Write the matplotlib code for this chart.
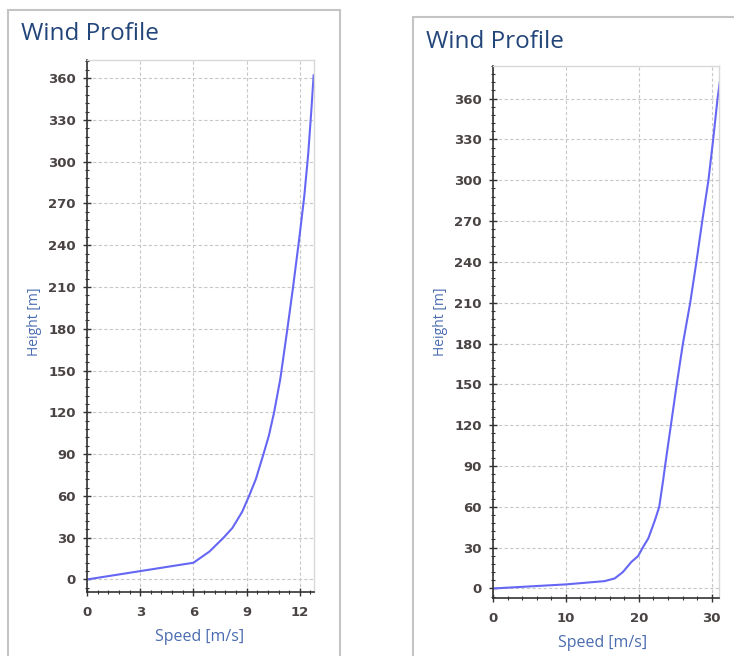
##### LIBRARIES ########################
import matplotlib
matplotlib.use("Agg")
import matplotlib.pyplot as plt
from matplotlib.patches import Rectangle
from matplotlib.ticker import MultipleLocator, AutoMinorLocator

##### DATA #############################
# left profile (speed [m/s] vs. height [m])
left_speed  = [0, 3, 6, 6.9, 7.7, 8.2, 8.75, 9.14, 9.52, 9.95, 10.25, 10.55,
               10.9, 11.3, 11.62, 11.97, 12.25, 12.47, 12.64, 12.78]
left_height = [0, 6, 12, 20, 30, 37, 48.6, 60, 72, 90, 103, 120,
               144, 180, 210, 245, 275, 305, 335, 362]
left_xticks = [0, 3, 6, 9, 12]

# right profile
right_speed  = [0, 5, 10, 15.3, 16.7, 17.8, 19.0, 19.9, 20.6, 21.3, 22.2, 22.8,
                23.35, 23.6, 24.4, 25.2, 26.05, 27.05, 27.9, 28.7, 29.55, 30.2,
                30.8, 31.1]
right_height = [0, 1.5, 3, 5.4, 7.4, 12, 19.6, 23.8, 30.6, 36.8, 50, 60,
                80, 90, 120, 150, 180, 210, 240, 270, 300, 330, 360, 372]
right_xticks = [0, 10, 20, 30]

yticks = [0, 30, 60, 90, 120, 150, 180, 210, 240, 270, 300, 330, 360]

title_txt = "Wind Profile"
xlab_txt  = "Speed [m/s]"
ylab_txt  = "Height [m]"

##### STYLE ############################
W, H = 734, 656
title_col = "#22457a"
label_col = "#4a6cb0"
tick_col  = "#4a4343"
line_col  = "#6666f5"
frame_col = "#c4c4c4"
grid_col  = "#c8c8c8"


def px(x, y):
    # pixel (from top-left) -> figure fraction
    return x / W, 1 - y / H


def setup_axes(ax, xmax, ymin, ymax, xticks, xminor):
    ax.set_xlim(0, xmax)
    ax.set_ylim(ymin, ymax)
    ax.set_xticks(xticks)
    ax.set_yticks(yticks)
    ax.xaxis.set_minor_locator(MultipleLocator(xminor))
    ax.yaxis.set_minor_locator(AutoMinorLocator(5))
    ax.grid(which='major', color=grid_col, linestyle=(0, (3, 2)), linewidth=0.8)
    ax.tick_params(which='major', direction='inout', length=6, width=1,
                   color='#333333', labelcolor=tick_col, labelsize=9.5)
    ax.tick_params(axis='y', which='major', pad=5)
    ax.tick_params(axis='x', which='major', pad=7)
    ax.tick_params(which='minor', direction='inout', length=3, width=0.8,
                   color='#333333')
    ax.tick_params(top=False, right=False, which='both')
    for lbl in ax.get_xticklabels() + ax.get_yticklabels():
        lbl.set_fontweight('bold')
    for s in ['left', 'bottom']:
        ax.spines[s].set_color('#333333')
        ax.spines[s].set_linewidth(1.2)
    for s in ['top', 'right']:
        ax.spines[s].set_color('#d8d8d8')
        ax.spines[s].set_linewidth(1)


##### FIGURE ###########################
fig = plt.figure(figsize=(W / 100, H / 100), dpi=100)
fig.patch.set_facecolor('white')

# panel frames
x0, y0 = px(8, 10)
fig.patches.append(Rectangle((x0, -0.02), (340 - 8) / W, y0 + 0.02,
                             transform=fig.transFigure, fill=False,
                             edgecolor=frame_col, linewidth=1.5))
x0, y0 = px(413, 17)
fig.patches.append(Rectangle((x0, -0.02), 0.5, y0 + 0.02,
                             transform=fig.transFigure, fill=False,
                             edgecolor=frame_col, linewidth=1.5))

## left panel
l, t = px(87, 60)
r, b = px(314, 592)
ax1 = fig.add_axes([l, b, r - l, t - b])
setup_axes(ax1, 12.8, -9, 373, left_xticks, 0.6)
ax1.plot(left_speed, left_height, '-', color=line_col, linewidth=1.5)

## right panel
l, t = px(493, 66)
r, b = px(719, 598)
ax2 = fig.add_axes([l, b, r - l, t - b])
setup_axes(ax2, 31.0, -7, 384, right_xticks, 2)
ax2.plot(right_speed, right_height, '-', color=line_col, linewidth=1.5)

## texts
fig.text(*px(21, 34), title_txt, fontsize=17.5, color=title_col,
         family='Open Sans', va='center', ha='left')
fig.text(*px(426, 42), title_txt, fontsize=17.5, color=title_col,
         family='Open Sans', va='center', ha='left')
fig.text(*px(200, 637), xlab_txt, fontsize=11.5, color=label_col,
         family='Open Sans', va='center', ha='center')
fig.text(*px(603, 643), xlab_txt, fontsize=11.5, color=label_col,
         family='Open Sans', va='center', ha='center')
fig.text(*px(35, 322), ylab_txt, fontsize=10, color=label_col,
         family='Open Sans', va='center', ha='center', rotation=90)
fig.text(*px(440, 322), ylab_txt, fontsize=10, color=label_col,
         family='Open Sans', va='center', ha='center', rotation=90)

### Finish figure
plt.savefig("out.png", dpi=100)
plt.close()
